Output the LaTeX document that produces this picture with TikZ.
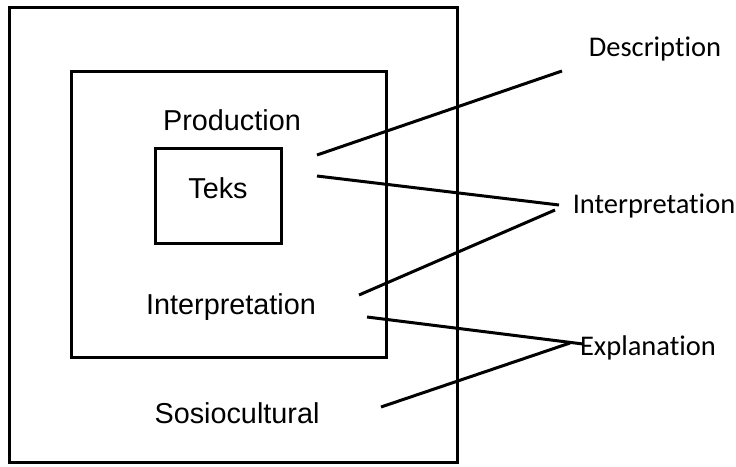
\documentclass[tikz,border=0pt]{standalone}
\usepackage{fontspec}
\setmainfont{Liberation Sans}
\newfontfamily\rightfont[RawFeature={-liga}]{Carlito}
\begin{document}
\begin{tikzpicture}[x=1pt,y=-1pt,
  box/.style={draw,line width=3pt},
  conn/.style={line width=3pt},
  intext/.style={font=\fontsize{28.8}{34}\selectfont,inner sep=0pt},
  outtext/.style={font=\rightfont\fontsize{28.5}{33}\selectfont,inner sep=0pt}]
\useasboundingbox (0,0) rectangle (736,466);
\draw[box] (9,7) rectangle (457,462);
\draw[box] (71,71) rectangle (386,357);
\draw[box] (155,148) rectangle (281,243);
\node[intext] (prod) at (232,120) {Production};
\node[intext] (teks) at (218,188) {Teks};
\node[intext] (interp) at (231,307) {Interpretation};
\node[intext] (socio) at (237,413) {Sosiocultural};
\node[outtext] (desc) at (655,49) {Description};
\node[outtext] (interp2) at (654,206) {Interpretation};
\node[outtext] (expl) at (648,348) {Explanation};
\coordinate (a1) at (317,155);
\coordinate (a2) at (562,71);
\coordinate (b1) at (317,176);
\coordinate (b2) at (559,205);
\coordinate (c1) at (359,295);
\coordinate (c2) at (555,210);
\coordinate (d1) at (367,317);
\coordinate (d2) at (583,344);
\coordinate (e1) at (381,407);
\coordinate (e2) at (570,343);
\draw[conn] (a1) -- (a2);
\draw[conn] (b1) -- (b2);
\draw[conn] (c1) -- (c2);
\draw[conn] (d1) -- (d2);
\draw[conn] (e1) -- (e2);
\end{tikzpicture}
\end{document}
